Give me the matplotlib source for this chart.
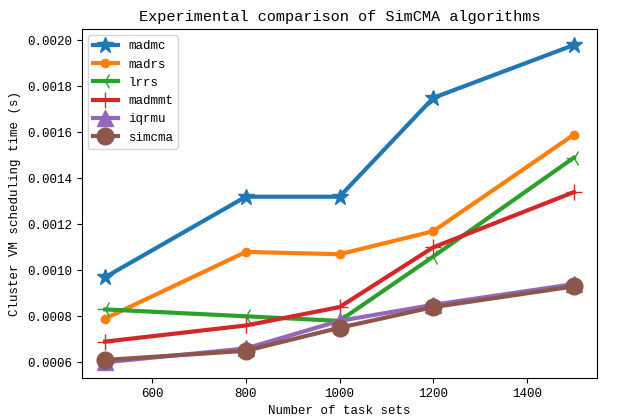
import matplotlib
matplotlib.use("Agg")
import matplotlib.pyplot as plt

plt.rcParams['font.family'] = ['Liberation Mono', 'DejaVu Sans Mono']

tasks = [500, 800, 1000, 1200, 1500]
madmc = [0.00097, 0.00132, 0.00132, 0.00175, 0.00198]
madrs = [0.00079, 0.00108, 0.00107, 0.00117, 0.00159]
lrrs = [0.00083, 0.00080, 0.00078, 0.00106, 0.00149]
madmmt = [0.00069, 0.00076, 0.00084, 0.00110, 0.00134]
iqrmu = [0.00060, 0.00066, 0.00078, 0.00085, 0.00094]
simcma = [0.00061, 0.00065, 0.00075, 0.00084, 0.00093]

fig = plt.figure(figsize=(6.19, 4.16), dpi=100)
ax = fig.add_axes([0.132, 0.091, 0.833, 0.839])

ax.plot(tasks, madmc, marker='*', markersize=12, linewidth=3, label='madmc')
ax.plot(tasks, madrs, marker='o', markersize=6, linewidth=3, label='madrs')
ax.plot(tasks, lrrs, marker='3', markersize=12, linewidth=3, label='lrrs')
ax.plot(tasks, madmmt, marker='+', markersize=12, linewidth=3, label='madmmt')
ax.plot(tasks, iqrmu, marker='^', markersize=12, linewidth=3, label='iqrmu')
ax.plot(tasks, simcma, marker='o', markersize=12, linewidth=3, label='simcma')

ax.set_title('Experimental comparison of SimCMA algorithms', fontsize=11)
ax.set_xlabel('Number of task sets', fontsize=9)
ax.set_ylabel('Cluster VM scheduling time (s)', fontsize=9)
ax.tick_params(labelsize=9)
ax.legend(loc='upper left', fontsize=9)

fig.savefig('out.png', dpi=100)
